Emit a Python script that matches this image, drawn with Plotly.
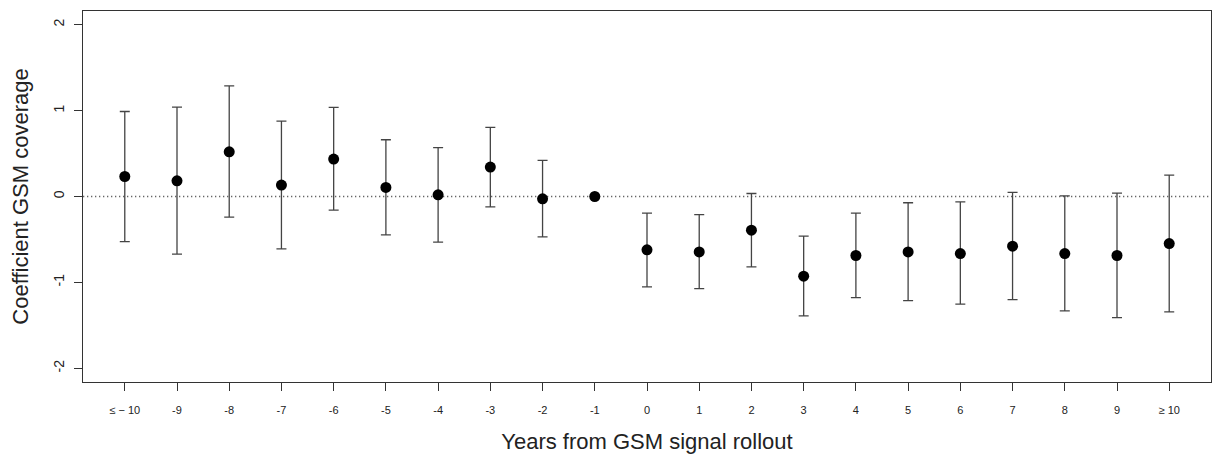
import plotly.graph_objects as go

categories = ["≤ − 10", "-9", "-8", "-7", "-6", "-5", "-4", "-3", "-2", "-1",
              "0", "1", "2", "3", "4", "5", "6", "7", "8", "9", "≥ 10"]
coef = [0.233, 0.183, 0.52, 0.133, 0.436, 0.105, 0.02, 0.343, -0.027, 0.0,
        -0.621, -0.645, -0.392, -0.928, -0.687, -0.645, -0.664, -0.578, -0.664, -0.687, -0.548]
upper = [0.99, 1.04, 1.287, 0.878, 1.037, 0.661, 0.568, 0.805, 0.42, 0.0,
         -0.194, -0.21, 0.035, -0.462, -0.194, -0.073, -0.062, 0.047, 0.008, 0.04, 0.25]
lower = [-0.525, -0.67, -0.24, -0.61, -0.159, -0.446, -0.532, -0.12, -0.47, 0.0,
         -1.052, -1.072, -0.82, -1.39, -1.177, -1.212, -1.254, -1.2, -1.332, -1.41, -1.344]
y_ticks = [-2, -1, 0, 1, 2]

err_plus = [u - c for u, c in zip(upper, coef)]
err_minus = [c - l for c, l in zip(coef, lower)]
has_bar = [u != l for u, l in zip(upper, lower)]
err_plus = [e if h else None for e, h in zip(err_plus, has_bar)]
err_minus = [e if h else None for e, h in zip(err_minus, has_bar)]

FONT = "Liberation Sans, Arial, Helvetica, sans-serif"

fig = go.Figure()
fig.add_trace(go.Scatter(
    x=categories, y=coef, mode="markers",
    marker=dict(color="black", size=11),
    error_y=dict(type="data", symmetric=False, array=err_plus, arrayminus=err_minus,
                 color="#444444", thickness=1.3, width=5),
    showlegend=False, hoverinfo="x+y",
))

fig.add_shape(type="line", xref="paper", yref="y", x0=0, x1=1, y0=0, y1=0,
              line=dict(color="#666666", width=1.3, dash="1.3px,2.7px"), layer="below")

fig.update_layout(
    width=1212, height=454,
    margin=dict(l=83, r=1, t=11, b=72),
    paper_bgcolor="white", plot_bgcolor="white",
    font=dict(family=FONT, color="#222222"),
    xaxis=dict(
        type="category", range=[-0.8, len(categories) - 1 + 0.8],
        automargin=False,
        showgrid=False, zeroline=False,
        showline=True, linecolor="#333333", linewidth=1, mirror=True,
        ticks="outside", ticklen=8, tickcolor="#333333", tickwidth=1,
        ticklabelstandoff=10,
        tickfont=dict(size=11, family=FONT, color="#222222"),
        title=dict(text="Years from GSM signal rollout",
                   font=dict(size=22, family=FONT, color="#222222"), standoff=18),
    ),
    yaxis=dict(
        range=[-2.16, 2.16], tickvals=y_ticks, ticktext=[str(t) for t in y_ticks],
        automargin=False,
        showgrid=False, zeroline=False,
        showline=True, linecolor="#333333", linewidth=1, mirror=True,
        ticks="outside", ticklen=8, tickcolor="#333333", tickwidth=1,
        tickangle=-90, ticklabelstandoff=4,
        tickfont=dict(size=14, family=FONT, color="#222222"),
        title=dict(text="Coefficient GSM coverage",
                   font=dict(size=22, family=FONT, color="#222222"), standoff=16),
    ),
)

fig.write_html("out.html",
               config={"displayModeBar": False},
               post_script="document.body.style.margin='0';document.body.style.overflow='hidden';")
